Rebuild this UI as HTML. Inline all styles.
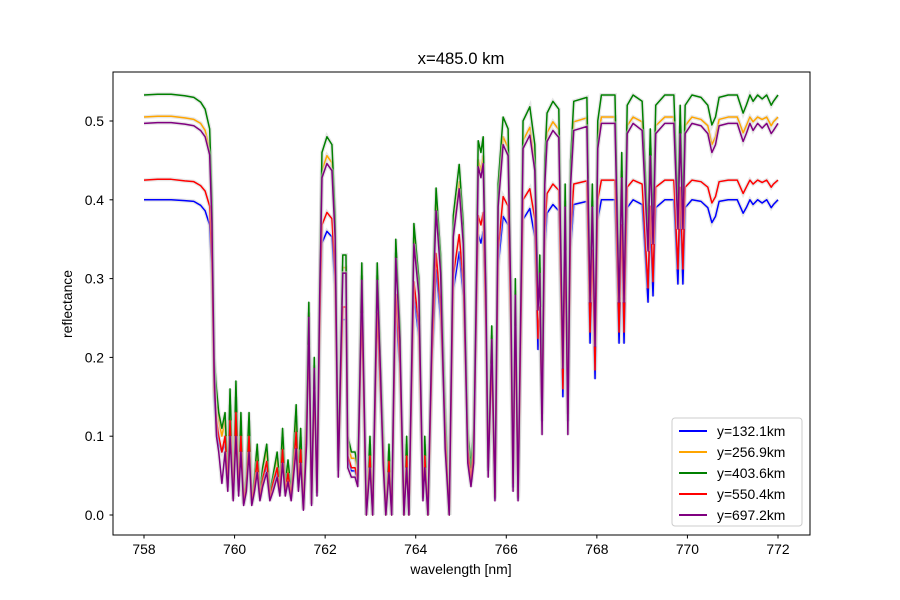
<!DOCTYPE html>
<html><head><meta charset="utf-8">
<style>
html,body{margin:0;padding:0;background:#fff;}
svg{display:block;font-family:"Liberation Sans","DejaVu Sans",sans-serif;}
</style></head>
<body>
<svg id="chart" width="900" height="600" viewBox="0 0 900 600">
<rect x="0" y="0" width="900" height="600" fill="#fff"/>
<g id="plot"></g>
<rect x="113" y="72" width="697" height="463" fill="none" stroke="#000" stroke-width="1"/>
<g id="xticks"></g>
<g id="yticks"></g>
<text x="461" y="64" text-anchor="middle" font-size="16.7">x=485.0 km</text>
<text x="461" y="574" text-anchor="middle" font-size="13.9">wavelength [nm]</text>
<text x="0" y="0" transform="translate(72,304) rotate(-90)" text-anchor="middle" font-size="13.9">reflectance</text>
<g id="legend"></g>
</svg>
<script>
const wavelengths=[758.0,758.3,758.6,758.9,759.1,759.25,759.35,759.45,759.5,759.55,759.6,759.65,759.72,759.79,759.85,759.9,759.97,760.03,760.09,760.14,760.2,760.26,760.32,760.38,760.44,760.5,760.56,760.62,760.71,760.78,760.85,760.94,761.0,761.06,761.12,761.18,761.25,761.36,761.41,761.46,761.52,761.59,761.64,761.7,761.76,761.82,761.88,761.93,762.04,762.15,762.22,762.29,762.34,762.39,762.46,762.5,762.58,762.66,762.72,762.81,762.91,762.99,763.05,763.15,763.22,763.28,763.34,763.41,763.47,763.56,763.65,763.74,763.8,763.85,763.96,764.07,764.16,764.2,764.27,764.36,764.45,764.55,764.65,764.74,764.83,764.96,765.05,765.15,765.22,765.28,765.38,765.44,765.49,765.55,765.6,765.68,765.75,765.82,765.93,766.04,766.1,766.15,766.2,766.26,766.37,766.52,766.63,766.7,766.74,766.79,766.85,766.9,767.03,767.16,767.25,767.3,767.36,767.42,767.49,767.78,767.85,767.9,767.96,768.02,768.1,768.4,768.49,768.55,768.6,768.67,768.8,769.0,769.13,769.18,769.24,769.3,769.5,769.7,769.79,769.84,769.9,769.95,770.1,770.3,770.45,770.54,770.62,770.7,770.9,771.1,771.23,771.3,771.38,771.45,771.55,771.65,771.75,771.85,771.9,772.0];
const seriesGreen=[.533,.534,.534,.532,.530,.524,.515,.49,.40,.20,.16,.13,.11,.13,.05,.16,.03,.17,.04,.13,.02,.05,.13,.02,.05,.09,.03,.06,.09,.03,.05,.08,.04,.11,.04,.07,.03,.14,.05,.11,.01,.15,.27,.02,.20,.04,.30,.46,.48,.47,.38,.08,.20,.33,.33,.10,.08,.08,.06,.32,.00,.10,.00,.32,.20,.11,.00,.09,.00,.35,.24,.00,.10,.00,.37,.30,.03,.10,.00,.25,.415,.33,.14,.00,.38,.445,.37,.11,.06,.11,.475,.46,.48,.30,.08,.24,.03,.42,.505,.49,.30,.05,.30,.03,.50,.518,.47,.28,.33,.17,.45,.51,.525,.515,.20,.42,.17,.45,.525,.530,.29,.42,.23,.50,.533,.533,.29,.46,.29,.52,.533,.525,.36,.49,.37,.52,.533,.533,.39,.52,.39,.52,.533,.530,.520,.495,.505,.530,.533,.533,.51,.52,.533,.525,.533,.528,.533,.52,.525,.533];
const seriesBlue=[.400,.400,.400,.399,.398,.393,.386,.368,.30,.15,.11,.09,.08,.09,.035,.11,.02,.12,.03,.09,.014,.035,.09,.014,.035,.063,.021,.042,.063,.021,.035,.056,.028,.077,.028,.049,.021,.098,.035,.077,.007,.105,.203,.014,.15,.028,.225,.345,.36,.353,.285,.056,.15,.248,.248,.07,.056,.056,.042,.24,0,.07,0,.24,.15,.077,0,.063,0,.263,.18,0,.07,0,.278,.225,.021,.07,0,.188,.311,.248,.098,0,.285,.334,.278,.077,.042,.077,.356,.345,.36,.225,.056,.18,.021,.315,.379,.368,.225,.035,.225,.021,.375,.389,.353,.21,.248,.119,.338,.383,.394,.386,.15,.315,.119,.338,.394,.398,.218,.315,.173,.375,.400,.400,.218,.345,.218,.39,.400,.394,.27,.368,.278,.39,.400,.400,.293,.39,.293,.39,.400,.398,.39,.371,.379,.398,.400,.400,.383,.39,.400,.394,.400,.396,.400,.39,.394,.400];
const seriesOrange=[.505,.506,.506,.504,.502,.497,.488,.465,.38,.19,.15,.12,.10,.12,.045,.14,.027,.15,.036,.12,.018,.045,.12,.018,.045,.081,.027,.054,.081,.027,.045,.072,.036,.099,.036,.063,.027,.126,.045,.099,.009,.135,.257,.018,.19,.036,.285,.437,.456,.447,.361,.072,.19,.314,.314,.09,.072,.072,.054,.304,0,.09,0,.304,.19,.099,0,.081,0,.333,.228,0,.09,0,.352,.285,.027,.09,0,.238,.394,.314,.126,0,.361,.423,.352,.099,.054,.099,.451,.437,.456,.285,.072,.228,.027,.399,.48,.466,.285,.045,.285,.027,.475,.492,.447,.266,.314,.153,.428,.485,.499,.489,.19,.399,.153,.428,.499,.504,.276,.399,.219,.475,.505,.505,.276,.437,.276,.494,.505,.499,.342,.466,.352,.494,.505,.505,.371,.494,.371,.494,.505,.502,.494,.47,.48,.502,.505,.505,.485,.494,.505,.499,.505,.502,.505,.494,.499,.505];
const seriesRed=[.425,.426,.426,.424,.423,.418,.411,.392,.32,.16,.12,.10,.08,.10,.04,.12,.02,.13,.03,.10,.015,.04,.10,.015,.04,.068,.023,.045,.068,.023,.04,.06,.03,.083,.03,.053,.023,.105,.04,.083,.008,.113,.216,.015,.16,.03,.24,.368,.384,.376,.304,.06,.16,.264,.264,.075,.06,.06,.045,.256,0,.075,0,.256,.16,.083,0,.068,0,.28,.192,0,.075,0,.296,.24,.023,.075,0,.2,.332,.264,.105,0,.304,.356,.296,.083,.045,.083,.38,.368,.384,.24,.06,.192,.023,.336,.404,.392,.24,.04,.24,.023,.40,.414,.376,.224,.264,.128,.36,.408,.42,.412,.16,.336,.128,.36,.42,.424,.232,.336,.184,.40,.425,.425,.232,.368,.232,.416,.425,.42,.288,.392,.296,.416,.425,.425,.312,.416,.312,.416,.425,.423,.416,.396,.404,.423,.425,.425,.408,.416,.425,.42,.425,.422,.425,.416,.42,.425];
const seriesPurple=[.497,.498,.498,.496,.494,.488,.480,.457,.37,.18,.10,.08,.04,.08,.03,.10,.018,.10,.024,.08,.012,.03,.08,.012,.03,.054,.018,.036,.054,.018,.03,.048,.024,.066,.024,.042,.018,.084,.03,.066,.006,.09,.251,.012,.186,.024,.279,.428,.446,.437,.353,.048,.186,.307,.307,.06,.048,.048,.036,.298,0,.06,0,.298,.186,.066,0,.054,0,.326,.223,0,.06,0,.344,.279,.018,.06,0,.233,.386,.307,.084,0,.353,.414,.344,.066,.036,.066,.442,.428,.446,.279,.048,.223,.018,.391,.47,.456,.279,.03,.279,.018,.465,.482,.437,.26,.307,.102,.419,.474,.488,.479,.186,.391,.102,.419,.488,.493,.27,.391,.214,.465,.497,.497,.27,.428,.27,.484,.497,.488,.335,.456,.344,.484,.497,.497,.363,.484,.363,.484,.497,.494,.484,.46,.47,.494,.497,.497,.474,.484,.497,.488,.497,.491,.497,.484,.488,.497];
const seriesLabels=["y=132.1km","y=256.9km","y=403.6km","y=550.4km","y=697.2km"];
const seriesColors=["#0000ff","#ffa500","#008000","#ff0000","#800080"];
const xTickValues=[758,760,762,764,766,768,770,772];
const yTickValues=[0.0,0.1,0.2,0.3,0.4,0.5];

const NS="http://www.w3.org/2000/svg";
function xScale(v){return 144+(v-758)*(634/14);}
function yScale(v){return 515-v*788;}
const plot=document.getElementById('plot');
const allSeries=[seriesBlue,seriesOrange,seriesGreen,seriesRed,seriesPurple];
const seriesNames=['series-y132','series-y257','series-y404','series-y550','series-y697'];
allSeries.forEach((s,i)=>{
  const d=s.map((v,j)=>(j?'L':'M')+xScale(wavelengths[j]).toFixed(2)+','+yScale(v).toFixed(2)).join(' ');
  const band=document.createElementNS(NS,'path');
  band.setAttribute('d',d);band.setAttribute('fill','none');band.setAttribute('stroke','#d0d0d0');band.setAttribute('stroke-width','4');band.setAttribute('stroke-opacity','0.5');
  
  
  plot.appendChild(band);
  const p=document.createElementNS(NS,'path');
  p.setAttribute('d',d);p.setAttribute('fill','none');p.setAttribute('stroke',seriesColors[i]);p.setAttribute('stroke-width','1.5');p.setAttribute('stroke-linejoin','round');
  
  
  plot.appendChild(p);
});
const xg=document.getElementById('xticks');
xTickValues.forEach(v=>{
  const x=xScale(v);
  const l=document.createElementNS(NS,'line');
  l.setAttribute('x1',x);l.setAttribute('x2',x);l.setAttribute('y1',535);l.setAttribute('y2',538.5);l.setAttribute('stroke','#000');
  
  
  xg.appendChild(l);
  const t=document.createElementNS(NS,'text');
  t.setAttribute('x',x);t.setAttribute('y',554);t.setAttribute('text-anchor','middle');t.setAttribute('font-size','13.9');
  t.textContent=v;
  
  
  xg.appendChild(t);
});
const yg=document.getElementById('yticks');
yTickValues.forEach(v=>{
  const y=yScale(v);
  const l=document.createElementNS(NS,'line');
  l.setAttribute('x1',109.5);l.setAttribute('x2',113);l.setAttribute('y1',y);l.setAttribute('y2',y);l.setAttribute('stroke','#000');
  
  
  yg.appendChild(l);
  const t=document.createElementNS(NS,'text');
  t.setAttribute('x',104);t.setAttribute('y',y+5);t.setAttribute('text-anchor','end');t.setAttribute('font-size','13.9');
  t.textContent=v.toFixed(1);
  
  
  yg.appendChild(t);
});
const lg=document.getElementById('legend');
const box=document.createElementNS(NS,'rect');
box.setAttribute('x',672);box.setAttribute('y',418);box.setAttribute('width',130);box.setAttribute('height',108);box.setAttribute('rx',3);
box.setAttribute('fill','#fff');box.setAttribute('fill-opacity','0.8');box.setAttribute('stroke','#cccccc');


lg.appendChild(box);
seriesLabels.forEach((lab,i)=>{
  const y=431+i*21;
  const l=document.createElementNS(NS,'line');
  l.setAttribute('x1',679);l.setAttribute('x2',707);l.setAttribute('y1',y);l.setAttribute('y2',y);l.setAttribute('stroke',seriesColors[i]);l.setAttribute('stroke-width','2');
  
  
  lg.appendChild(l);
  const t=document.createElementNS(NS,'text');
  t.setAttribute('x',717);t.setAttribute('y',y+5);t.setAttribute('font-size','13.9');
  t.textContent=lab;
  
  
  lg.appendChild(t);
});
</script>
</body></html>
